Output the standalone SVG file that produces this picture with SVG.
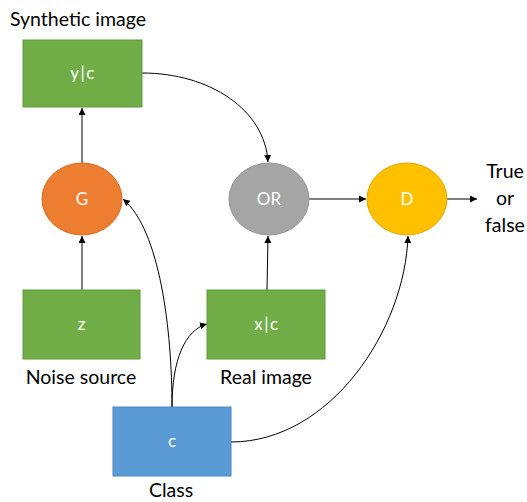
<svg xmlns="http://www.w3.org/2000/svg" width="527" height="502" viewBox="0 0 527 502">
<defs>
<marker id="ah" viewBox="0 0 10 10" refX="10" refY="5" markerWidth="7" markerHeight="7" orient="auto" markerUnits="userSpaceOnUse"><path d="M0,0 L10,5 L0,10 z" fill="#000"/></marker>
<style>
.lbl{font-family:Lato,"Liberation Sans",sans-serif;font-size:19.5px;fill:#000}
.in{font-family:Lato,"Liberation Sans",sans-serif;font-size:17px;fill:#fff;text-anchor:middle}
.sp{letter-spacing:1.5px}
.g{fill:#70AD47;stroke:#5E9A3A;stroke-width:1}
.c{fill:none;stroke:#000;stroke-width:1;marker-end:url(#ah)}
</style>
</defs>
<rect width="527" height="502" fill="#fff"/>
<g id="connectors">
<path class="c" d="M82,163 L82,108"/>
<path class="c" d="M82,290 L82,236"/>
<path class="c" d="M267,290 L268,236"/>
<path class="c" d="M309,199 L366,199"/>
<path class="c" d="M447,199 L477,199"/>
<path class="c" d="M142,73 C210,73 265,110 268,162"/>
<path class="c" d="M172,407 C172,330 160,230 123,199"/>
<path class="c" d="M172,407 C172,360 185,330 207,324"/>
<path class="c" d="M231,442 C330,442 405,330 408,236"/>
</g>
<g id="synthetic"><rect class="g" x="23" y="40" width="119" height="67"/><text class="in sp" x="83" y="79">y|c</text></g>
<g id="G"><ellipse cx="82" cy="199" rx="40" ry="36" fill="#ED7D31" stroke="#D46A22"/><text class="in" x="82" y="205">G</text></g>
<g id="OR"><ellipse cx="269" cy="199" rx="40" ry="36" fill="#A5A5A5" stroke="#959595"/><text class="in" x="269" y="205">OR</text></g>
<g id="D"><ellipse cx="407" cy="199" rx="40" ry="36" fill="#FFC000" stroke="#E0A800"/><text class="in" x="407" y="205">D</text></g>
<g id="z"><rect class="g" x="23" y="290" width="117" height="69"/><text class="in" x="81.5" y="330">z</text></g>
<g id="real"><rect class="g" x="207" y="290" width="118" height="69"/><text class="in sp" x="267" y="330">x|c</text></g>
<g id="class"><rect x="113" y="407" width="118" height="69" fill="#5B9BD5" stroke="#4A88C2"/><text class="in" x="172" y="447">c</text></g>
<text class="lbl" x="10" y="26">Synthetic image</text>
<text class="lbl" x="81" y="384" text-anchor="middle">Noise source</text>
<text class="lbl" x="266" y="384" text-anchor="middle">Real image</text>
<text class="lbl" x="171" y="497" text-anchor="middle">Class</text>
<text class="lbl" x="505" y="178" text-anchor="middle">True</text>
<text class="lbl" x="505" y="205" text-anchor="middle">or</text>
<text class="lbl" x="505" y="232" text-anchor="middle">false</text>
</svg>
